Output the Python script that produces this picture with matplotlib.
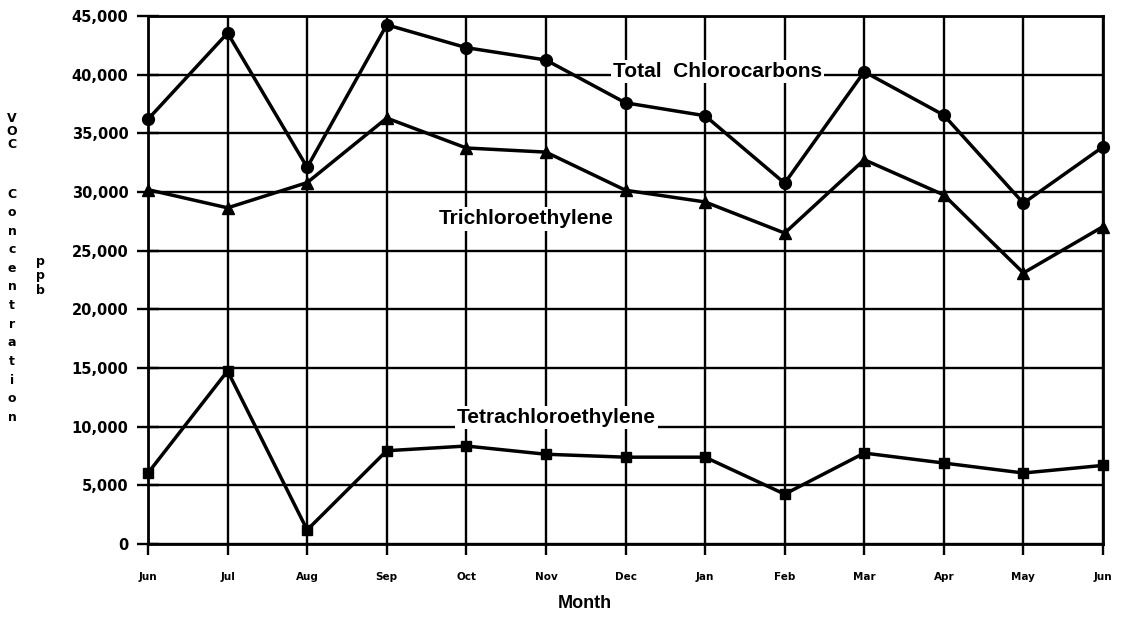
import matplotlib
matplotlib.use("Agg")
import matplotlib.pyplot as plt

months = ["Jun", "Jul", "Aug", "Sep", "Oct", "Nov", "Dec", "Jan", "Feb", "Mar", "Apr", "May", "Jun"]
total_chlorocarbons = [36200, 43550, 32100, 44250, 42300, 41250, 37600, 36500, 30750, 40250, 36550, 29050, 33850]
trichloroethylene = [30200, 28650, 30800, 36300, 33750, 33400, 30150, 29150, 26500, 32750, 29750, 23100, 27050]
tetrachloroethylene = [6050, 14750, 1200, 7950, 8350, 7650, 7400, 7400, 4250, 7750, 6900, 6050, 6700]
y_ticks = [0, 5000, 10000, 15000, 20000, 25000, 30000, 35000, 40000, 45000]
y_tick_labels = ["0", "5,000", "10,000", "15,000", "20,000", "25,000", "30,000", "35,000", "40,000", "45,000"]

W, H = 1122, 623
fig = plt.figure(figsize=(W / 100, H / 100), dpi=100)
L, R, T, B = 148, 1103, 16, 544
ax = fig.add_axes([L / W, (H - B) / H, (R - L) / W, (B - T) / H])

x = list(range(len(months)))
ax.set_xlim(0, len(months) - 1)
ax.set_ylim(0, 45000)

lw_data = 2.5
ax.plot(x, total_chlorocarbons, color="black", lw=lw_data, marker="o", ms=8.5, zorder=4, clip_on=False)
ax.plot(x, trichloroethylene, color="black", lw=lw_data, marker="^", ms=8, zorder=4, clip_on=False)
ax.plot(x, tetrachloroethylene, color="black", lw=lw_data, marker="s", ms=7.5, zorder=4, clip_on=False)

ax.set_xticks(x)
ax.set_xticklabels(months, fontsize=7.5, fontweight="bold", family="DejaVu Sans")
ax.set_yticks(y_ticks)
ax.set_yticklabels(y_tick_labels, fontsize=10.5, fontweight="bold", family="DejaVu Sans")
ax.tick_params(axis="y", direction="inout", length=16, width=1.7, pad=6)
ax.tick_params(axis="x", direction="out", length=8, width=1.7, pad=12)
ax.grid(True, color="black", lw=1.7, zorder=1)
for s in ax.spines.values():
    s.set_linewidth(2.0)

lab_font = dict(family="Liberation Sans", fontweight="bold", fontsize=15, color="black")
box = dict(facecolor="white", edgecolor="none", pad=1.5)
ax.text(7.16, 40300, "Total  Chlorocarbons", ha="center", va="center", bbox=box, zorder=3, **lab_font)
ax.text(4.75, 27700, "Trichloroethylene", ha="center", va="center", bbox=box, zorder=3, **lab_font)
ax.text(5.13, 10800, "Tetrachloroethylene", ha="center", va="center", bbox=box, zorder=3, **lab_font)

fig.text(585 / W, 1 - 603 / H, "Month", ha="center", va="center",
         family="Liberation Sans", fontweight="bold", fontsize=13)

ylab_font = dict(family="DejaVu Sans", fontweight="bold", fontsize=9, ha="center", va="center")
for i, ch in enumerate("VOC"):
    fig.text(12 / W, 1 - (118 + i * 13.5) / H, ch, **ylab_font)
for i, ch in enumerate("Concentration"):
    fig.text(12 / W, 1 - (194 + i * 18.6) / H, ch, **ylab_font)
for i, ch in enumerate("ppb"):
    fig.text(40 / W, 1 - (262 + i * 14) / H, ch, **ylab_font)

fig.savefig("out.png", dpi=100)
